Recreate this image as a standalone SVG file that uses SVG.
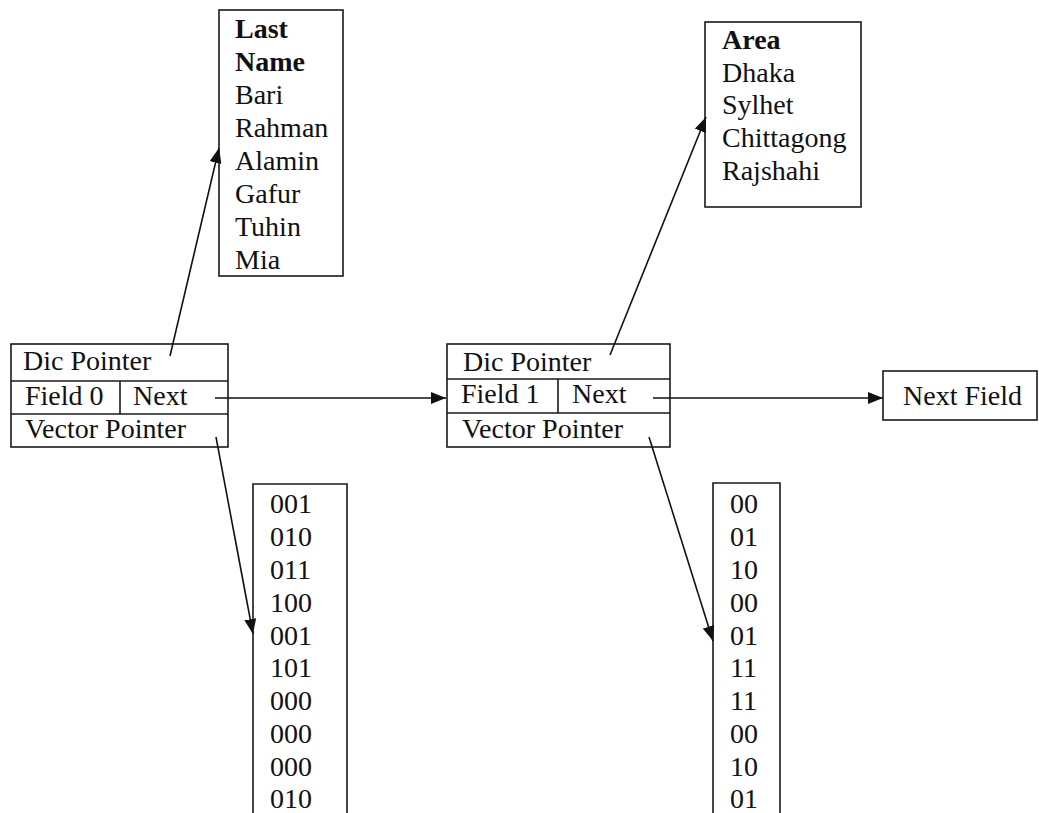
<svg xmlns="http://www.w3.org/2000/svg" width="1039" height="813" viewBox="0 0 1039 813">
  <style>
    .box { fill: #fff; stroke: #1a1a1a; stroke-width: 1.6; }
    .div { stroke: #1a1a1a; stroke-width: 1.6; fill: none; }
    .t { font-family: "Liberation Serif", "Times New Roman", serif; font-size: 28px; fill: #111; }
    .b { font-weight: bold; }
    .edge { stroke: #111; stroke-width: 1.6; fill: none; marker-end: url(#arrow); }
  </style>
  <defs>
    <marker id="arrow" markerUnits="userSpaceOnUse" markerWidth="16" markerHeight="12" refX="15" refY="6" orient="auto">
      <path d="M0,0 L15,6 L0,12 Z" fill="#111"/>
    </marker>
  </defs>
  <rect width="1039" height="813" fill="#fff"/>

  <!-- dictionary: last names -->
  <g id="dict-lastname">
    <rect class="box" x="219" y="10" width="124" height="266"/>
    <text class="t b" x="235" y="38">Last</text>
    <text class="t b" x="235" y="71">Name</text>
    <text class="t" x="235" y="104">Bari</text>
    <text class="t" x="235" y="137">Rahman</text>
    <text class="t" x="235" y="170">Alamin</text>
    <text class="t" x="235" y="203">Gafur</text>
    <text class="t" x="235" y="236">Tuhin</text>
    <text class="t" x="235" y="269">Mia</text>
  </g>

  <!-- dictionary: areas -->
  <g id="dict-area">
    <rect class="box" x="705" y="22" width="156" height="185"/>
    <text class="t b" x="722" y="49">Area</text>
    <text class="t" x="722" y="82">Dhaka</text>
    <text class="t" x="722" y="114">Sylhet</text>
    <text class="t" x="722" y="147">Chittagong</text>
    <text class="t" x="722" y="180">Rajshahi</text>
  </g>

  <!-- field 0 descriptor -->
  <g id="field0">
    <rect class="box" x="11" y="344" width="217" height="103"/>
    <line class="div" x1="11" y1="381" x2="228" y2="381"/>
    <line class="div" x1="11" y1="414" x2="228" y2="414"/>
    <line class="div" x1="120" y1="381" x2="120" y2="414"/>
    <text class="t" x="23" y="370">Dic Pointer</text>
    <text class="t" x="25" y="405">Field 0</text>
    <text class="t" x="133" y="405">Next</text>
    <text class="t" x="25" y="438">Vector Pointer</text>
  </g>

  <!-- field 1 descriptor -->
  <g id="field1">
    <rect class="box" x="447" y="344" width="223" height="103"/>
    <line class="div" x1="447" y1="379" x2="670" y2="379"/>
    <line class="div" x1="447" y1="413" x2="670" y2="413"/>
    <line class="div" x1="558" y1="379" x2="558" y2="413"/>
    <text class="t" x="463" y="371">Dic Pointer</text>
    <text class="t" x="461" y="403">Field 1</text>
    <text class="t" x="572" y="403">Next</text>
    <text class="t" x="462" y="438">Vector Pointer</text>
  </g>

  <!-- following field -->
  <g id="next-field">
    <rect class="box" x="883" y="371" width="154" height="49"/>
    <text class="t" x="903" y="405">Next Field</text>
  </g>

  <!-- bit vector of field 0 -->
  <g id="vector0">
    <path class="div" d="M253,820 V484 H347 V820"/>
    <text class="t" x="270" y="513">001</text>
    <text class="t" x="270" y="546">010</text>
    <text class="t" x="270" y="579">011</text>
    <text class="t" x="270" y="612">100</text>
    <text class="t" x="270" y="645">001</text>
    <text class="t" x="270" y="677">101</text>
    <text class="t" x="270" y="710">000</text>
    <text class="t" x="270" y="743">000</text>
    <text class="t" x="270" y="776">000</text>
    <text class="t" x="270" y="808">010</text>
  </g>

  <!-- bit vector of field 1 -->
  <g id="vector1">
    <path class="div" d="M713,820 V483 H780 V820"/>
    <text class="t" x="730" y="513">00</text>
    <text class="t" x="730" y="546">01</text>
    <text class="t" x="730" y="579">10</text>
    <text class="t" x="730" y="612">00</text>
    <text class="t" x="730" y="645">01</text>
    <text class="t" x="730" y="677">11</text>
    <text class="t" x="730" y="710">11</text>
    <text class="t" x="730" y="743">00</text>
    <text class="t" x="730" y="776">10</text>
    <text class="t" x="730" y="808">01</text>
  </g>

  <g id="connectors">
    <line class="edge" x1="170" y1="356" x2="219" y2="148"/>
    <line class="edge" x1="215" y1="398" x2="446" y2="398"/>
    <line class="edge" x1="216" y1="437" x2="253" y2="634"/>
    <line class="edge" x1="610" y1="355" x2="706" y2="117"/>
    <line class="edge" x1="653" y1="398" x2="883" y2="398"/>
    <line class="edge" x1="649" y1="437" x2="713" y2="641"/>
  </g>
</svg>
